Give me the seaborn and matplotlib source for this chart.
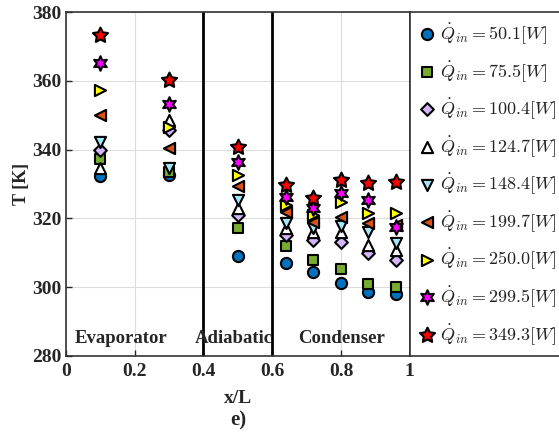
import numpy as np
import pandas as pd
import seaborn as sns
import matplotlib.pyplot as plt

# Axial measurement stations (x/L)
x_pos = [0.1, 0.3, 0.5, 0.64, 0.72, 0.8, 0.88, 0.96]

# Heat input levels [W]
q_labels = ["50.1", "75.5", "100.4", "124.7", "148.4", "199.7", "250.0", "299.5", "349.3"]

# Wall temperature [K] at each station, one list per heat input
T_q50 = [332.3, 332.6, 309.1, 306.9, 304.5, 301.1, 298.7, 298.0]
T_q75 = [337.3, 333.5, 317.3, 312.1, 307.9, 305.3, 300.8, 300.1]
T_q100 = [339.9, 345.8, 321.0, 315.2, 313.7, 313.2, 309.8, 307.9]
T_q125 = [334.7, 348.6, 323.0, 317.2, 316.1, 316.1, 312.3, 310.8]
T_q148 = [342.3, 334.6, 325.3, 318.8, 317.1, 317.8, 316.1, 312.9]
T_q200 = [350.1, 340.5, 329.4, 321.8, 318.9, 320.5, 318.6, 318.0]
T_q250 = [357.3, 346.7, 332.6, 323.9, 321.0, 324.9, 321.5, 321.5]
T_q300 = [365.1, 353.2, 336.5, 326.3, 323.1, 327.5, 325.3, 317.4]
T_q349 = [373.3, 360.2, 340.8, 329.7, 326.0, 331.2, 330.2, 330.5]

series = [T_q50, T_q75, T_q100, T_q125, T_q148, T_q200, T_q250, T_q300, T_q349]

markers = ["o", "s", "D", "^", "v", "<", ">", (6, 1, 0), (5, 1, 0)]
colors = ["#0072BD", "#77AC30", "#D3B5FA", "#FFFFFF", "#A6E6FA",
          "#D95319", "#FFFF00", "#FF00FF", "#FF0000"]
sizes = [65, 50, 42, 65, 65, 65, 65, 110, 130]

rows = []
for q, temps in zip(q_labels, series):
    for x, t in zip(x_pos, temps):
        rows.append({"x": x, "T": t, "Q": q})
df = pd.DataFrame(rows)

sns.set_theme(style="ticks")
plt.rcParams["font.family"] = ["Liberation Serif", "DejaVu Serif"]
plt.rcParams["mathtext.fontset"] = "cm"

fig = plt.figure(figsize=(5.59, 4.48), dpi=100)
ax = fig.add_axes([0.118, 0.2054, 0.615, 0.7678])

ax.grid(True, color="#DCDCDC", linewidth=0.8)
ax.set_axisbelow(True)

for q, m, c, s in zip(q_labels, markers, colors, sizes):
    sub = df[df["Q"] == q]
    sns.scatterplot(data=sub, x="x", y="T", marker=m, color=c, s=s,
                    edgecolor="black", linewidth=1.5, ax=ax, zorder=3,
                    label=rf"$\dot{{Q}}_{{in}} = {q}[W]$", legend=False)

# Section boundaries
for xb in (0.4, 0.6):
    ax.axvline(xb, color="black", linewidth=2.0, zorder=2)

ax.set_xlim(0, 1)
ax.set_ylim(280, 380)
ax.set_xticks([0, 0.2, 0.4, 0.6, 0.8, 1])
ax.set_xticklabels(["0", "0.2", "0.4", "0.6", "0.8", "1"])
ax.set_yticks([280, 300, 320, 340, 360, 380])
ax.tick_params(direction="in", length=4, width=1, labelsize=14)
ax.tick_params(axis="x", pad=5)
ax.tick_params(axis="y", pad=3)
for lab in ax.get_xticklabels() + ax.get_yticklabels():
    lab.set_fontweight("bold")

for sp in ax.spines.values():
    sp.set_color("#333333")
    sp.set_linewidth(1.2)

ax.set_xlabel("x/L", fontsize=14, fontweight="bold", labelpad=7)
ax.set_ylabel("T [K]", fontsize=13, fontweight="bold", labelpad=2)

text_kw = dict(fontsize=13.5, fontweight="bold", va="center", ha="left", zorder=4)
ax.text(0.026, 285.2, "Evaporator", **text_kw)
ax.text(0.375, 285.2, "Adiabatic", **text_kw)
ax.text(0.674, 285.2, "Condenser", **text_kw)

fig.text(0.426, 0.062, "e)", fontsize=15, fontweight="bold", ha="center", va="center")

h, l = ax.get_legend_handles_labels()
leg = ax.legend(h, l, loc="upper left", bbox_to_anchor=(1.0, 1.0), borderaxespad=0,
                frameon=True, fancybox=False, edgecolor="#333333", framealpha=1,
                fontsize=13, labelspacing=0.70, handletextpad=0.25, handlelength=0.9,
                borderpad=0.5, markerscale=1.0, labelcolor="#222222")
leg.get_frame().set_linewidth(1.2)

fig.savefig("out.png", dpi=100)
